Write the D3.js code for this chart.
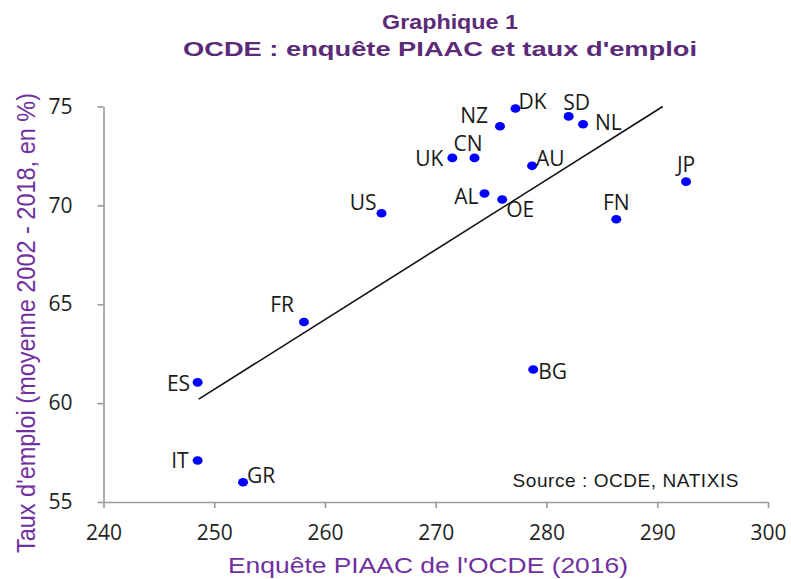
<!DOCTYPE html>
<html>
<head>
<meta charset="utf-8">
<script src="https://cdn.jsdelivr.net/npm/d3@7"></script>
<style>
  html, body { margin: 0; padding: 0; background: #ffffff; }
  svg { display: block; }
</style>
</head>
<body>
<svg id="chart" width="791" height="579"></svg>
<script>
// ---- data ----
const codes  = ["US","UK","CN","NZ","DK","SD","NL","AU","AL","OE","FN","JP","FR","ES","IT","GR","BG"];
const piaac  = [265.1,271.5,273.5,275.8,277.2,282.0,283.3,278.7,274.4,276.0,286.3,292.6,258.1,248.5,248.5,252.6,278.8];
const emploi = [69.6,72.4,72.4,74.0,74.9,74.5,74.1,72.0,70.6,70.3,69.3,71.2,64.1,61.05,57.1,56.0,61.7];
const trendX = [248.6, 290.5];
const trendY = [60.2, 75.0];
const xTicks = [240,250,260,270,280,290,300];
const yTicks = [55,60,65,70,75];

const titleLines = ["Graphique 1", "OCDE : enquête PIAAC et taux d'emploi"];
const xTitle = "Enquête PIAAC de l'OCDE (2016)";
const yTitle = "Taux d'emploi (moyenne 2002 - 2018, en %)";
const sourceText = "Source : OCDE, NATIXIS";

// label placement (style only)
const labelPos = {
  US:{a:"end",dx:-5,dy:-3}, UK:{a:"end",dx:-9,dy:8.5}, CN:{a:"middle",dx:-6.5,dy:-6.5},
  NZ:{a:"end",dx:-12,dy:-3}, DK:{a:"start",dx:3,dy:1}, SD:{a:"middle",dx:8,dy:-6},
  NL:{a:"start",dx:12,dy:6}, AU:{a:"start",dx:4,dy:0}, AL:{a:"end",dx:-6,dy:10.5},
  OE:{a:"start",dx:4,dy:18}, FN:{a:"middle",dx:0,dy:-9.5}, JP:{a:"middle",dx:0,dy:-9.5},
  FR:{a:"end",dx:-10,dy:-10}, ES:{a:"end",dx:-7.5,dy:8.5}, IT:{a:"end",dx:-9,dy:7.7},
  GR:{a:"start",dx:4,dy:0.5}, BG:{a:"start",dx:5,dy:9}
};

const svg = d3.select("#chart");
const x = d3.scaleLinear().domain([240,300]).range([103.5,768]);
const y = d3.scaleLinear().domain([55,75]).range([502,106.5]);

const axisColor = "#9a9a9a";
const tickFont = "'Open Sans', sans-serif";

// X axis
const gx = svg.append("g").attr("transform", `translate(0,${y(55)})`)
  .call(d3.axisBottom(x).tickValues(xTicks).tickSize(6).tickSizeOuter(0).tickPadding(17));
// Y axis
const gy = svg.append("g").attr("transform", `translate(${x(240)},0)`)
  .call(d3.axisLeft(y).tickValues(yTicks).tickSize(6).tickSizeOuter(0).tickPadding(25));

[gx, gy].forEach(g => {
  g.select(".domain").attr("stroke", axisColor).attr("stroke-width", 1.6);
  g.selectAll(".tick line").attr("stroke", axisColor).attr("stroke-width", 1.6);
  g.selectAll(".tick text").attr("fill", "#1f1f1f")
    .style("font-family", tickFont).style("font-size", "21px");
});

// trend line
svg.append("line")
  .attr("x1", x(trendX[0])).attr("y1", y(trendY[0]))
  .attr("x2", x(trendX[1])).attr("y2", y(trendY[1]))
  .attr("stroke", "#111").attr("stroke-width", 1.6);

// points
const pts = codes.map((c,i) => ({c, px: piaac[i], py: emploi[i]}));
svg.append("g").selectAll("ellipse").data(pts).enter().append("ellipse")
  .attr("cx", d => x(d.px)).attr("cy", d => y(d.py))
  .attr("rx", 5).attr("ry", 4.3)
  .attr("fill", "#0000ff");

svg.append("g").selectAll("text").data(pts).enter().append("text")
  .attr("x", d => x(d.px) + labelPos[d.c].dx)
  .attr("y", d => y(d.py) + labelPos[d.c].dy)
  .attr("text-anchor", d => labelPos[d.c].a)
  .attr("fill", "#1a1a1a")
  .style("font-family", tickFont).style("font-size", "21px")
  .text(d => d.c);

// titles
const titleColor = "#5b2a78";
svg.append("text").attr("x", 382).attr("y", 28.5)
  .attr("textLength", 136).attr("lengthAdjust", "spacingAndGlyphs")
  .attr("fill", titleColor).style("font-family", "'Liberation Sans', Arial, sans-serif")
  .style("font-weight", "bold").style("font-size", "21px").text(titleLines[0]);
svg.append("text").attr("x", 183).attr("y", 55.5)
  .attr("textLength", 514).attr("lengthAdjust", "spacingAndGlyphs")
  .attr("fill", titleColor).style("font-family", "'Liberation Sans', Arial, sans-serif")
  .style("font-weight", "bold").style("font-size", "21px").text(titleLines[1]);

// axis titles
const axTitleColor = "#7030a0";
svg.append("text").attr("x", 228).attr("y", 573)
  .attr("textLength", 400).attr("lengthAdjust", "spacingAndGlyphs")
  .attr("fill", axTitleColor).style("font-family", "'Liberation Sans', Arial, sans-serif")
  .style("font-size", "22px").text(xTitle);
svg.append("text").attr("transform", "translate(35,553) rotate(-90)")
  .attr("x", 0).attr("y", 0)
  .attr("textLength", 460).attr("lengthAdjust", "spacingAndGlyphs")
  .attr("fill", axTitleColor).style("font-family", "'Liberation Sans', Arial, sans-serif")
  .style("font-size", "25px").text(yTitle);

// source
svg.append("text").attr("x", 512.5).attr("y", 486.7).attr("fill", "#1a1a1a")
  .attr("textLength", 226).attr("lengthAdjust", "spacing")
  .style("font-family", "'Liberation Sans', Arial, sans-serif").style("font-size", "19px")
  .text(sourceText);
</script>
</body>
</html>
